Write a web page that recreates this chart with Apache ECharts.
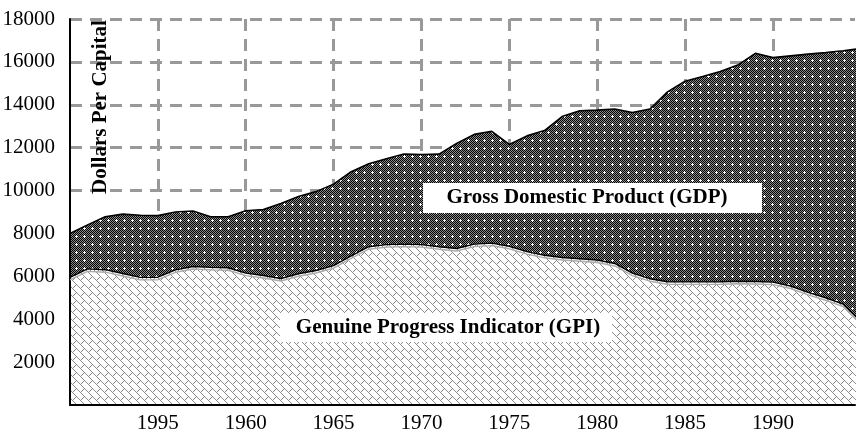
<!DOCTYPE html>
<html>
<head>
<meta charset="utf-8">
<script src="https://cdn.jsdelivr.net/npm/echarts@6/dist/echarts.min.js"></script>
<style>
  html, body { margin: 0; padding: 0; background: #fff; }
  #chart { width: 856px; height: 431px; }
</style>
</head>
<body>
<div id="chart"></div>
<script>
var years = [1950, 1951, 1952, 1953, 1954, 1955, 1956, 1957, 1958, 1959,
  1960, 1961, 1962, 1963, 1964, 1965, 1966, 1967, 1968, 1969,
  1970, 1971, 1972, 1973, 1974, 1975, 1976, 1977, 1978, 1979,
  1980, 1981, 1982, 1983, 1984, 1985, 1986, 1987, 1988, 1989,
  1990, 1991, 1992, 1993, 1994, 1995];

var gdp = [8000, 8400, 8780, 8900, 8850, 8830, 9000, 9050, 8780, 8780,
  9060, 9120, 9400, 9720, 9950, 10300, 10880, 11250, 11480, 11700,
  11680, 11700, 12200, 12620, 12760, 12150, 12550, 12800, 13450, 13720,
  13750, 13800, 13640, 13800, 14600, 15100, 15320, 15550, 15850, 16400,
  16200, 16280, 16360, 16430, 16520, 16620];

var gpi = [5950, 6350, 6310, 6130, 5950, 5960, 6300, 6460, 6420, 6400,
  6150, 6040, 5900, 6120, 6270, 6500, 6950, 7380, 7480, 7500,
  7480, 7380, 7300, 7500, 7550, 7400, 7150, 6980, 6880, 6820,
  6760, 6600, 6150, 5890, 5750, 5740, 5740, 5750, 5770, 5760,
  5730, 5550, 5250, 5000, 4700, 3900];

// tick labels as printed on the original (first one really says 1995)
var xTickYears = [1955, 1960, 1965, 1970, 1975, 1980, 1985, 1990];
var xTickLabels = ['1995', '1960', '1965', '1970', '1975', '1980', '1985', '1990'];

var serif = "'Liberation Serif', 'Times New Roman', serif";

// dark dotted fill for GDP
function dotPattern() {
  var c = document.createElement('canvas');
  c.width = 8; c.height = 8;
  var ctx = c.getContext('2d');
  for (var x = 0; x < 8; x++) {
    for (var y = 0; y < 8; y++) {
      ctx.fillStyle = (x + y) % 2 === 0 ? '#000' : '#8c8c8c';
      ctx.fillRect(x, y, 1, 1);
    }
  }
  ctx.fillStyle = '#fff';
  [[4, 4], [3, 4], [5, 4], [4, 3], [4, 5]].forEach(function (p) {
    ctx.fillRect(p[0], p[1], 1, 1);
  });
  return c;
}

// light diagonal brick hatch for GPI
function brickPattern() {
  var c = document.createElement('canvas');
  c.width = 16; c.height = 16;
  var ctx = c.getContext('2d');
  ctx.fillStyle = '#fff';
  ctx.fillRect(0, 0, 16, 16);
  ctx.fillStyle = '#8a8a8a';
  for (var x = 0; x < 16; x++) {
    for (var y = 0; y < 16; y++) {
      var u = ((x - y) % 16 + 16) % 16;
      var v = (x + y) % 16;
      var lane = u < 8 ? 0 : 1;
      if (u % 8 === 0 || v === lane * 8) ctx.fillRect(x, y, 1, 1);
    }
  }
  return c;
}

var gdpData = years.map(function (y, i) { return [y, gdp[i]]; });
var gpiData = years.map(function (y, i) { return [y, gpi[i]]; });

var myChart = echarts.init(document.getElementById('chart'), null, { renderer: 'canvas' });

var dashed = { color: '#999', width: 3, type: [12, 8] };

var option = {
  backgroundColor: '#fff',
  animation: false,
  grid: { left: 70, right: 1, top: 19, bottom: 26, containLabel: false, outerBoundsMode: 'none' },
  xAxis: {
    type: 'value',
    min: 1950,
    max: 1994.67,
    interval: 5,
    z: 3,
    axisLine: { show: true, lineStyle: { color: '#000', width: 2 } },
    axisTick: { show: false },
    axisLabel: {
      margin: 8,
      color: '#000',
      fontFamily: serif,
      fontSize: 21,
      showMinLabel: false,
      showMaxLabel: false,
      formatter: function (v) {
        var k = xTickYears.indexOf(Math.round(v));
        return k >= 0 ? xTickLabels[k] : '';
      }
    },
    splitLine: { show: true, showMinLine: false, showMaxLine: false, lineStyle: dashed }
  },
  yAxis: {
    type: 'value',
    min: 0,
    max: 18000,
    interval: 2000,
    z: 3,
    axisLine: { show: true, lineStyle: { color: '#000', width: 2 } },
    axisTick: { show: false },
    axisLabel: {
      margin: 15,
      color: '#000',
      fontFamily: serif,
      fontSize: 21,
      formatter: function (v) { return v === 0 ? '' : String(v); }
    },
    splitLine: { show: true, showMinLine: false, lineStyle: dashed }
  },
  series: [
    {
      name: 'Gross Domestic Product (GDP)',
      type: 'line',
      data: gdpData,
      symbol: 'none',
      lineStyle: { color: '#000', width: 1.6 },
      areaStyle: { color: { image: dotPattern(), repeat: 'repeat' }, opacity: 1 }
    },
    {
      name: 'Genuine Progress Indicator (GPI)',
      type: 'line',
      data: gpiData,
      symbol: 'none',
      lineStyle: { color: '#000', width: 1.4, shadowColor: '#aaa', shadowOffsetY: 2.5, shadowBlur: 0 },
      areaStyle: { color: { image: brickPattern(), repeat: 'repeat' }, opacity: 1 }
    }
  ],
  graphic: [
    {
      type: 'rect', z: 100,
      shape: { x: 423, y: 183, width: 339, height: 30 },
      style: { fill: '#fff' }
    },
    {
      type: 'text', z: 101,
      x: 587, y: 198,
      style: {
        text: 'Gross Domestic Product (GDP)',
        font: 'bold 21px ' + serif,
        fill: '#000', align: 'center', verticalAlign: 'middle'
      }
    },
    {
      type: 'rect', z: 100,
      shape: { x: 280, y: 313, width: 332, height: 29 },
      style: { fill: '#fff' }
    },
    {
      type: 'text', z: 101,
      x: 448, y: 328,
      style: {
        text: 'Genuine Progress Indicator (GPI)',
        font: 'bold 21px ' + serif,
        fill: '#000', align: 'center', verticalAlign: 'middle'
      }
    },
    {
      type: 'text', z: 101,
      x: 101, y: 107,
      rotation: Math.PI / 2,
      style: {
        text: 'Dollars Per Capital',
        font: 'bold 21px ' + serif,
        fill: '#000', align: 'center', verticalAlign: 'middle'
      }
    }
  ]
};

myChart.setOption(option);
</script>
</body>
</html>
